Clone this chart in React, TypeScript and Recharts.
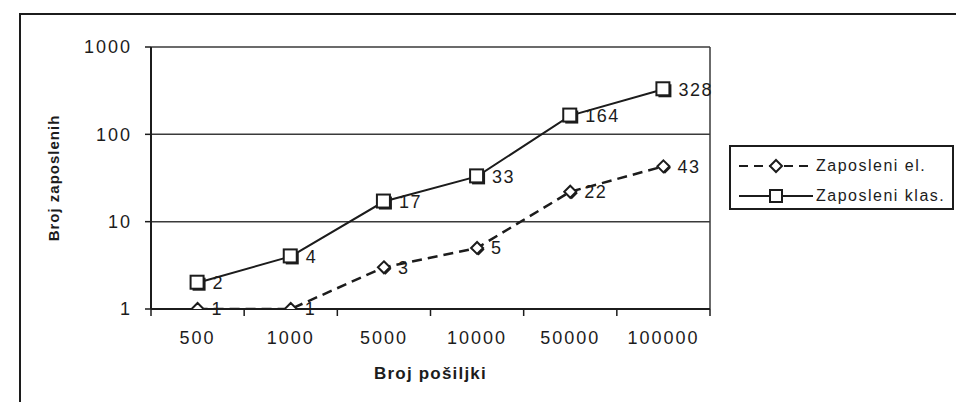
import {
  LineChart,
  Line,
  XAxis,
  YAxis,
  CartesianGrid,
  LabelList,
  ReferenceLine,
  Legend,
} from "recharts";

const categories = ["500", "1000", "5000", "10000", "50000", "100000"];
const zaposleniEl = [1, 1, 3, 5, 22, 43];
const zaposleniKlas = [2, 4, 17, 33, 164, 328];
const yTicks = [1, 10, 100, 1000];

const FONT = "'Liberation Sans', Arial, sans-serif";
const INK = "#1c1c1c";

// plot box: x 151..710, y 47..309
const W = 956;
const H = 402;
const Y_W = 151;
const MARGIN = { top: 47, right: 246, bottom: 33, left: 0 };
const PLOT_W = W - Y_W - MARGIN.right;
const BAND = PLOT_W / categories.length;

const data = categories.map((c, i) => ({
  i,
  label: c,
  el: zaposleniEl[i],
  klas: zaposleniKlas[i],
}));

// ticks sit on the band edges, labels in the middle of each band
const xEdges = categories.map((_, k) => k - 0.5).concat(categories.length - 0.5);

function XTick(props: any) {
  const { x, y, payload } = props;
  const idx = payload.value + 0.5;
  if (idx >= categories.length) return <g />;
  return (
    <text
      x={x + BAND / 2}
      y={y}
      dy={26}
      textAnchor="middle"
      fill={INK}
      fontSize={18}
      letterSpacing={2}
      fontFamily={FONT}
    >
      {categories[idx]}
    </text>
  );
}

function SquareDot(props: any) {
  const { cx, cy } = props;
  if (cx == null || cy == null) return <g />;
  return (
    <g>
      <rect x={cx - 5} y={cy - 5} width={13} height={13} fill={INK} />
      <rect x={cx - 7} y={cy - 7} width={13} height={13} fill="#fff" stroke={INK} strokeWidth={2} />
    </g>
  );
}

function DiamondDot(props: any) {
  const { cx, cy } = props;
  if (cx == null || cy == null) return <g />;
  const d = (ox: number, oy: number) =>
    `M${cx + ox},${cy + oy - 6} L${cx + ox + 6},${cy + oy} L${cx + ox},${cy + oy + 6} L${cx + ox - 6},${cy + oy} Z`;
  return (
    <g>
      <path d={d(1.5, 1.5)} fill={INK} />
      <path d={d(0, 0)} fill="#fff" stroke={INK} strokeWidth={2} />
    </g>
  );
}

function LegendBox() {
  const rows = [
    { name: "Zaposleni el.", dash: "9 6", shape: "diamond" },
    { name: "Zaposleni klas.", dash: undefined, shape: "square" },
  ];
  return (
    <div
      style={{
        border: `2px solid ${INK}`,
        width: 225,
        height: 65,
        padding: "4px 0 0 6px",
        boxSizing: "border-box",
        background: "#fff",
        fontFamily: FONT,
      }}
    >
      {rows.map((r) => (
        <div key={r.name} style={{ display: "flex", alignItems: "center", height: 30 }}>
          <svg width={78} height={20}>
            <line x1={2} x2={76} y1={10} y2={10} stroke={INK} strokeWidth={2} strokeDasharray={r.dash} />
            {r.shape === "square" ? (
              <rect x={33} y={4} width={12} height={12} fill="#fff" stroke={INK} strokeWidth={2} />
            ) : (
              <path d="M39,4 L45,10 L39,16 L33,10 Z" fill="#fff" stroke={INK} strokeWidth={2} />
            )}
          </svg>
          <span style={{ fontSize: 16, letterSpacing: 1.5, color: INK, marginLeft: 1, whiteSpace: "nowrap" }}>
            {r.name}
          </span>
        </div>
      ))}
    </div>
  );
}

export default function App() {
  return (
    <div
      style={{
        position: "absolute",
        left: 0,
        top: 0,
        width: W,
        height: H,
        overflow: "hidden",
        background: "#fff",
      }}
    >
      {/* outer chart-area frame */}
      <div
        style={{
          position: "absolute",
          left: 19,
          top: 13,
          width: 1000,
          height: 500,
          borderLeft: `2px solid ${INK}`,
          borderTop: `2px solid ${INK}`,
        }}
      />
      <LineChart width={W} height={H} data={data} margin={MARGIN}>
        <CartesianGrid vertical={false} stroke="#3a3a3a" strokeWidth={1.5} />
        <ReferenceLine x={categories.length - 0.5} stroke="#3a3a3a" strokeWidth={1.5} />

        <XAxis
          dataKey="i"
          type="number"
          domain={[-0.5, categories.length - 0.5]}
          ticks={xEdges}
          interval={0}
          height={60}
          tickSize={7}
          tick={<XTick />}
          axisLine={{ stroke: INK, strokeWidth: 2 }}
          tickLine={{ stroke: INK, strokeWidth: 1.5 }}
          label={({ viewBox }: any) => (
            <text
              x={viewBox.x + viewBox.width / 2}
              y={viewBox.y + 70}
              textAnchor="middle"
              fontSize={17}
              fontWeight="bold"
              letterSpacing={1.2}
              fill={INK}
              fontFamily={FONT}
            >
              Broj pošiljki
            </text>
          )}
        />

        <YAxis
          type="number"
          scale="log"
          domain={[1, 1000]}
          ticks={yTicks}
          allowDataOverflow
          width={Y_W}
          tickSize={6}
          tickMargin={13}
          tick={{ fill: INK, fontSize: 18, letterSpacing: 2, fontFamily: FONT }}
          axisLine={{ stroke: INK, strokeWidth: 2 }}
          tickLine={{ stroke: INK, strokeWidth: 1.5 }}
          label={({ viewBox }: any) => {
            const cx = viewBox.x + 55;
            const cy = viewBox.y + viewBox.height / 2;
            return (
              <text
                x={cx}
                y={cy}
                transform={`rotate(-90, ${cx}, ${cy})`}
                textAnchor="middle"
                dominantBaseline="middle"
                fontSize={15}
                fontWeight="bold"
                letterSpacing={1}
                fill={INK}
                fontFamily={FONT}
              >
                Broj zaposlenih
              </text>
            );
          }}
        />

        <Legend
          layout="vertical"
          align="center"
          verticalAlign="middle"
          content={<LegendBox />}
          wrapperStyle={{ left: 729, top: 145, width: 225 }}
        />

        <Line
          dataKey="el"
          name="Zaposleni el."
          stroke={INK}
          strokeWidth={2.5}
          strokeDasharray="10 6"
          dot={<DiamondDot />}
          isAnimationActive={false}
        >
          <LabelList
            dataKey="el"
            position="right"
            offset={14}
            fill={INK}
            fontSize={18}
            fontFamily={FONT}
            letterSpacing={1.5}
          />
        </Line>
        <Line
          dataKey="klas"
          name="Zaposleni klas."
          stroke={INK}
          strokeWidth={2}
          dot={<SquareDot />}
          isAnimationActive={false}
        >
          <LabelList
            dataKey="klas"
            position="right"
            offset={15}
            fill={INK}
            fontSize={18}
            fontFamily={FONT}
            letterSpacing={1.5}
          />
        </Line>
      </LineChart>
    </div>
  );
}
